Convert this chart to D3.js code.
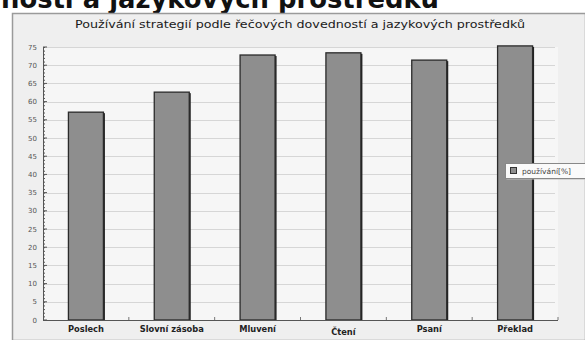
<!DOCTYPE html>
<html>
<head>
<meta charset="utf-8">
<script src="https://cdn.jsdelivr.net/npm/d3@7"></script>
<style>
  html, body { margin: 0; padding: 0; background: #ffffff; }
  svg { display: block; }
</style>
</head>
<body>
<svg id="chart" width="585" height="340"></svg>
<script>
// Skill categories and share of students using strategies (%)
const categories = ["Poslech", "Slovní zásoba", "Mluvení", "Čtení", "Psaní", "Překlad"];
const usage = [57.1, 62.6, 72.8, 73.4, 71.4, 75.3];
const yTicks = [0, 5, 10, 15, 20, 25, 30, 35, 40, 45, 50, 55, 60, 65, 70, 75];
const seriesName = "používání[%]";
const chartTitle = "Používání strategií podle řečových dovedností a jazykových prostředků";
const pageHeading = "nosti a jazykových prostředků";

const svg = d3.select("#chart");
const W = 585, H = 340;
const plot = { left: 43, right: 558, top: 47, bottom: 320 };

// Page heading above the panel
svg.append("text")
  .attr("x", 1).attr("y", 8)
  .attr("font-family", "DejaVu Sans, sans-serif")
  .attr("font-weight", "bold")
  .attr("font-size", 26)
  .attr("fill", "#111")
  .attr("textLength", 438)
  .attr("lengthAdjust", "spacingAndGlyphs")
  .text(pageHeading);

// Chart panel
svg.append("rect")
  .attr("x", 12.5).attr("y", 13.5)
  .attr("width", W - 12).attr("height", H - 13)
  .attr("fill", "#efefef")
  .attr("stroke", "#9a9a9a").attr("stroke-width", 1.5);

svg.append("text")
  .attr("x", 300).attr("y", 28)
  .attr("text-anchor", "middle")
  .attr("font-family", "DejaVu Sans, sans-serif")
  .attr("font-size", 10.5)
  .attr("fill", "#1a1a1a")
  .attr("textLength", 450)
  .attr("lengthAdjust", "spacingAndGlyphs")
  .text(chartTitle);

const x = d3.scaleBand().domain(categories).range([plot.left, plot.right]).paddingInner(0).paddingOuter(0);
const y = d3.scaleLinear().domain([0, 75]).range([plot.bottom, plot.top]);

// Plot background
svg.append("rect")
  .attr("x", plot.left).attr("y", plot.top)
  .attr("width", plot.right - plot.left).attr("height", plot.bottom - plot.top)
  .attr("fill", "#f6f6f6");

// Horizontal grid
svg.append("g").selectAll("line")
  .data(yTicks.filter(d => d > 0))
  .join("line")
  .attr("x1", plot.left).attr("x2", plot.right - 3)
  .attr("y1", d => Math.round(y(d)) + 0.5).attr("y2", d => Math.round(y(d)) + 0.5)
  .attr("stroke", "#d6d6d6").attr("stroke-width", 1);

// Bars with a dark outline and a slight shadow on the right
const barW = 35;
const bars = svg.append("g");
bars.selectAll("rect.shadow")
  .data(usage)
  .join("rect")
  .attr("class", "shadow")
  .attr("x", (d, i) => x(categories[i]) + (x.bandwidth() - barW) / 2 + 1.5)
  .attr("y", d => y(d) + 1)
  .attr("width", barW)
  .attr("height", d => y(0) - y(d) - 1)
  .attr("fill", "#222");
bars.selectAll("rect.bar")
  .data(usage)
  .join("rect")
  .attr("class", "bar")
  .attr("x", (d, i) => x(categories[i]) + (x.bandwidth() - barW) / 2)
  .attr("y", d => y(d))
  .attr("width", barW)
  .attr("height", d => y(0) - y(d))
  .attr("fill", "#8e8e8e")
  .attr("stroke", "#2a2a2a").attr("stroke-width", 1.3);

// Y axis: major ticks every 5, minor every 1, drawn inward
const yAxis = svg.append("g").attr("transform", `translate(${plot.left},0)`);
yAxis.call(d3.axisRight(y).tickValues(d3.range(0, 76, 1)).tickSize(2).tickFormat(""))
  .call(g => g.select(".domain").remove())
  .call(g => g.selectAll("line").attr("stroke", "#555"));
yAxis.append("line")
  .attr("x1", 0.5).attr("x2", 0.5)
  .attr("y1", plot.top).attr("y2", plot.bottom)
  .attr("stroke", "#555");
yAxis.selectAll("text.ylab")
  .data(yTicks)
  .join("text")
  .attr("class", "ylab")
  .attr("x", -6).attr("y", d => y(d) + 2.5)
  .attr("text-anchor", "end")
  .attr("font-family", "DejaVu Sans, sans-serif")
  .attr("font-size", 7)
  .attr("fill", "#555")
  .text(d => d);
yAxis.selectAll("line.major")
  .data(yTicks)
  .join("line")
  .attr("class", "major")
  .attr("x1", 0).attr("x2", 4)
  .attr("y1", d => y(d)).attr("y2", d => y(d))
  .attr("stroke", "#555");

// X axis with ticks at band boundaries
const xAxis = svg.append("g").attr("transform", `translate(0,${plot.bottom})`);
xAxis.append("line")
  .attr("x1", plot.left).attr("x2", plot.right)
  .attr("y1", 0.5).attr("y2", 0.5)
  .attr("stroke", "#555");
xAxis.selectAll("line.tick")
  .data(categories)
  .join("line")
  .attr("class", "tick")
  .attr("x1", d => x(d) + x.bandwidth()).attr("x2", d => x(d) + x.bandwidth())
  .attr("y1", 0).attr("y2", -3)
  .attr("stroke", "#777");
xAxis.selectAll("text")
  .data(categories)
  .join("text")
  .attr("x", d => x(d) + x.bandwidth() / 2)
  .attr("y", (d, i) => i === 3 ? 15 : 12)
  .attr("text-anchor", "middle")
  .attr("font-family", "DejaVu Sans, sans-serif")
  .attr("font-weight", "bold")
  .attr("font-size", 8.3)
  .attr("fill", "#222")
  .text(d => d);

// Legend
const lg = svg.append("g").attr("transform", "translate(505,163)");
lg.append("rect").attr("x", 1.5).attr("y", 1.5).attr("width", 82).attr("height", 15).attr("fill", "#bbb");
lg.append("rect").attr("x", 0.5).attr("y", 0.5).attr("width", 82).attr("height", 15)
  .attr("fill", "#fafafa").attr("stroke", "#888");
lg.append("rect").attr("x", 5.5).attr("y", 4.5).attr("width", 6).attr("height", 6)
  .attr("fill", "#8e8e8e").attr("stroke", "#333");
lg.append("text").attr("x", 17).attr("y", 11)
  .attr("font-family", "DejaVu Sans, sans-serif")
  .attr("font-size", 7.5).attr("fill", "#444")
  .text(seriesName);
</script>
</body>
</html>
